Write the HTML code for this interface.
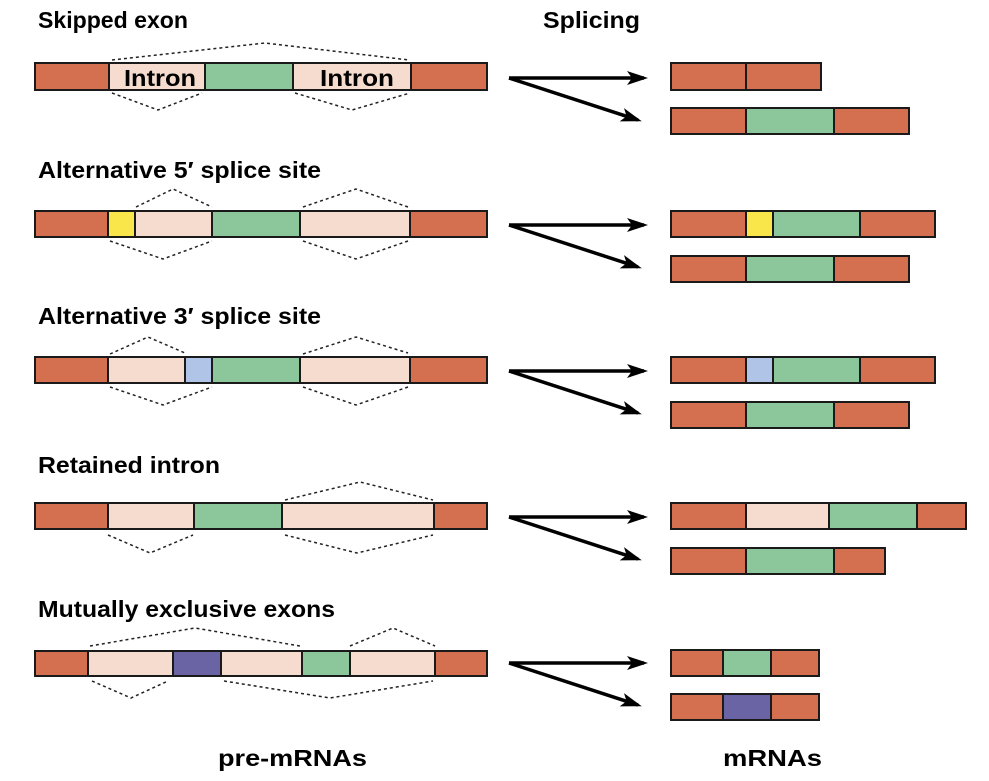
<!DOCTYPE html>
<html><head><meta charset="utf-8"><style>
html,body{margin:0;padding:0;background:#fff}
svg{display:block}
text{font-family:"Liberation Sans",Arial,sans-serif;font-weight:bold;fill:#000}
.b{stroke:#1a1a1a;stroke-width:2}
.d{fill:none;stroke:#222;stroke-width:1.5;stroke-dasharray:3,3}
.a{stroke:#000;stroke-width:3.5;fill:none}
</style></head><body>
<svg width="989" height="781" viewBox="0 0 989 781" xmlns="http://www.w3.org/2000/svg">
<defs>
<marker id="ah" markerWidth="22" markerHeight="16" refX="17" refY="8" orient="auto" markerUnits="userSpaceOnUse"><path d="M0,1 L21,8 L0,15 L5,8 z" fill="#000"/></marker>
</defs>
<g font-size="23">
<text x="38" y="28" textLength="150" lengthAdjust="spacingAndGlyphs">Skipped exon</text>
<text x="543" y="28" textLength="97" lengthAdjust="spacingAndGlyphs">Splicing</text>
<text x="38" y="178" textLength="283" lengthAdjust="spacingAndGlyphs">Alternative 5′ splice site</text>
<text x="38" y="324" textLength="283" lengthAdjust="spacingAndGlyphs">Alternative 3′ splice site</text>
<text x="38" y="473" textLength="182" lengthAdjust="spacingAndGlyphs">Retained intron</text>
<text x="38" y="617" textLength="297" lengthAdjust="spacingAndGlyphs">Mutually exclusive exons</text>
<text x="218" y="766" textLength="149" lengthAdjust="spacingAndGlyphs">pre-mRNAs</text>
<text x="723" y="766" textLength="99" lengthAdjust="spacingAndGlyphs">mRNAs</text>
</g>

<!-- Row 1 -->
<g class="b">
<rect x="35" y="63" width="74" height="27" fill="#d4704f"/>
<rect x="109" y="63" width="96" height="27" fill="#f5dccf"/>
<rect x="205" y="63" width="88" height="27" fill="#8bc79b"/>
<rect x="293" y="63" width="118" height="27" fill="#f5dccf"/>
<rect x="411" y="63" width="76" height="27" fill="#d4704f"/>
</g>
<text x="124" y="86" font-size="23" textLength="72" lengthAdjust="spacingAndGlyphs">Intron</text>
<text x="320" y="86" font-size="23" textLength="74" lengthAdjust="spacingAndGlyphs">Intron</text>
<polyline class="d" points="112,60 265,43 409,60"/>
<polyline class="d" points="112,93 158,110 202,93"/>
<polyline class="d" points="295,93 352,110 410,93"/>

<!-- Row 2 -->
<g class="b">
<rect x="35" y="211" width="73" height="26" fill="#d4704f"/>
<rect x="108" y="211" width="27" height="26" fill="#f8e64a"/>
<rect x="135" y="211" width="77" height="26" fill="#f5dccf"/>
<rect x="212" y="211" width="88" height="26" fill="#8bc79b"/>
<rect x="300" y="211" width="110" height="26" fill="#f5dccf"/>
<rect x="410" y="211" width="77" height="26" fill="#d4704f"/>
</g>
<polyline class="d" points="136,207 173,189 212,207"/>
<polyline class="d" points="303,207 356,189 408,207"/>
<polyline class="d" points="110,241 163,259 212,241"/>
<polyline class="d" points="303,241 356,259 408,241"/>

<!-- Row 3 -->
<g class="b">
<rect x="35" y="357" width="73" height="26" fill="#d4704f"/>
<rect x="108" y="357" width="77" height="26" fill="#f5dccf"/>
<rect x="185" y="357" width="27" height="26" fill="#b0c4e8"/>
<rect x="212" y="357" width="88" height="26" fill="#8bc79b"/>
<rect x="300" y="357" width="110" height="26" fill="#f5dccf"/>
<rect x="410" y="357" width="77" height="26" fill="#d4704f"/>
</g>
<polyline class="d" points="110,354 148,337 185,353"/>
<polyline class="d" points="303,354 356,337 408,353"/>
<polyline class="d" points="110,387 163,405 212,387"/>
<polyline class="d" points="303,387 356,405 408,387"/>

<!-- Row 4 -->
<g class="b">
<rect x="35" y="503" width="73" height="26" fill="#d4704f"/>
<rect x="108" y="503" width="86" height="26" fill="#f5dccf"/>
<rect x="194" y="503" width="88" height="26" fill="#8bc79b"/>
<rect x="282" y="503" width="152" height="26" fill="#f5dccf"/>
<rect x="434" y="503" width="53" height="26" fill="#d4704f"/>
</g>
<polyline class="d" points="285,500 360,482 433,500"/>
<polyline class="d" points="108,535 150,553 193,535"/>
<polyline class="d" points="285,535 357,553 433,535"/>

<!-- Row 5 -->
<g class="b">
<rect x="35" y="651" width="53" height="25" fill="#d4704f"/>
<rect x="88" y="651" width="85" height="25" fill="#f5dccf"/>
<rect x="173" y="651" width="48" height="25" fill="#6a64a4"/>
<rect x="221" y="651" width="81" height="25" fill="#f5dccf"/>
<rect x="302" y="651" width="48" height="25" fill="#8bc79b"/>
<rect x="350" y="651" width="85" height="25" fill="#f5dccf"/>
<rect x="435" y="651" width="52" height="25" fill="#d4704f"/>
</g>
<polyline class="d" points="90,646 195,628 300,646"/>
<polyline class="d" points="350,646 393,628 435,646"/>
<polyline class="d" points="92,681 131,698 168,681"/>
<polyline class="d" points="224,681 330,698 433,681"/>

<!-- Arrows -->
<g class="a" marker-end="url(#ah)">
<line x1="509" y1="78" x2="644" y2="78"/>
<line x1="509" y1="78" x2="638" y2="120"/>
<line x1="509" y1="225" x2="644" y2="225"/>
<line x1="509" y1="225" x2="638" y2="267"/>
<line x1="509" y1="371" x2="644" y2="371"/>
<line x1="509" y1="371" x2="638" y2="413"/>
<line x1="509" y1="517" x2="644" y2="517"/>
<line x1="509" y1="517" x2="638" y2="559"/>
<line x1="509" y1="663" x2="644" y2="663"/>
<line x1="509" y1="663" x2="638" y2="705"/>
</g>

<!-- mRNAs -->
<g class="b">
<rect x="671" y="63" width="75" height="27" fill="#d4704f"/>
<rect x="746" y="63" width="75" height="27" fill="#d4704f"/>

<rect x="671" y="108" width="75" height="26" fill="#d4704f"/>
<rect x="746" y="108" width="88" height="26" fill="#8bc79b"/>
<rect x="834" y="108" width="75" height="26" fill="#d4704f"/>

<rect x="671" y="211" width="75" height="26" fill="#d4704f"/>
<rect x="746" y="211" width="27" height="26" fill="#f8e64a"/>
<rect x="773" y="211" width="87" height="26" fill="#8bc79b"/>
<rect x="860" y="211" width="75" height="26" fill="#d4704f"/>

<rect x="671" y="256" width="75" height="26" fill="#d4704f"/>
<rect x="746" y="256" width="88" height="26" fill="#8bc79b"/>
<rect x="834" y="256" width="75" height="26" fill="#d4704f"/>

<rect x="671" y="357" width="75" height="26" fill="#d4704f"/>
<rect x="746" y="357" width="27" height="26" fill="#b0c4e8"/>
<rect x="773" y="357" width="87" height="26" fill="#8bc79b"/>
<rect x="860" y="357" width="75" height="26" fill="#d4704f"/>

<rect x="671" y="402" width="75" height="26" fill="#d4704f"/>
<rect x="746" y="402" width="88" height="26" fill="#8bc79b"/>
<rect x="834" y="402" width="75" height="26" fill="#d4704f"/>

<rect x="671" y="503" width="75" height="26" fill="#d4704f"/>
<rect x="746" y="503" width="83" height="26" fill="#f5dccf"/>
<rect x="829" y="503" width="88" height="26" fill="#8bc79b"/>
<rect x="917" y="503" width="49" height="26" fill="#d4704f"/>

<rect x="671" y="548" width="75" height="26" fill="#d4704f"/>
<rect x="746" y="548" width="88" height="26" fill="#8bc79b"/>
<rect x="834" y="548" width="51" height="26" fill="#d4704f"/>

<rect x="671" y="650" width="52" height="26" fill="#d4704f"/>
<rect x="723" y="650" width="48" height="26" fill="#8bc79b"/>
<rect x="771" y="650" width="48" height="26" fill="#d4704f"/>

<rect x="671" y="694" width="52" height="26" fill="#d4704f"/>
<rect x="723" y="694" width="48" height="26" fill="#6a64a4"/>
<rect x="771" y="694" width="48" height="26" fill="#d4704f"/>
</g>
</svg>
</body></html>
